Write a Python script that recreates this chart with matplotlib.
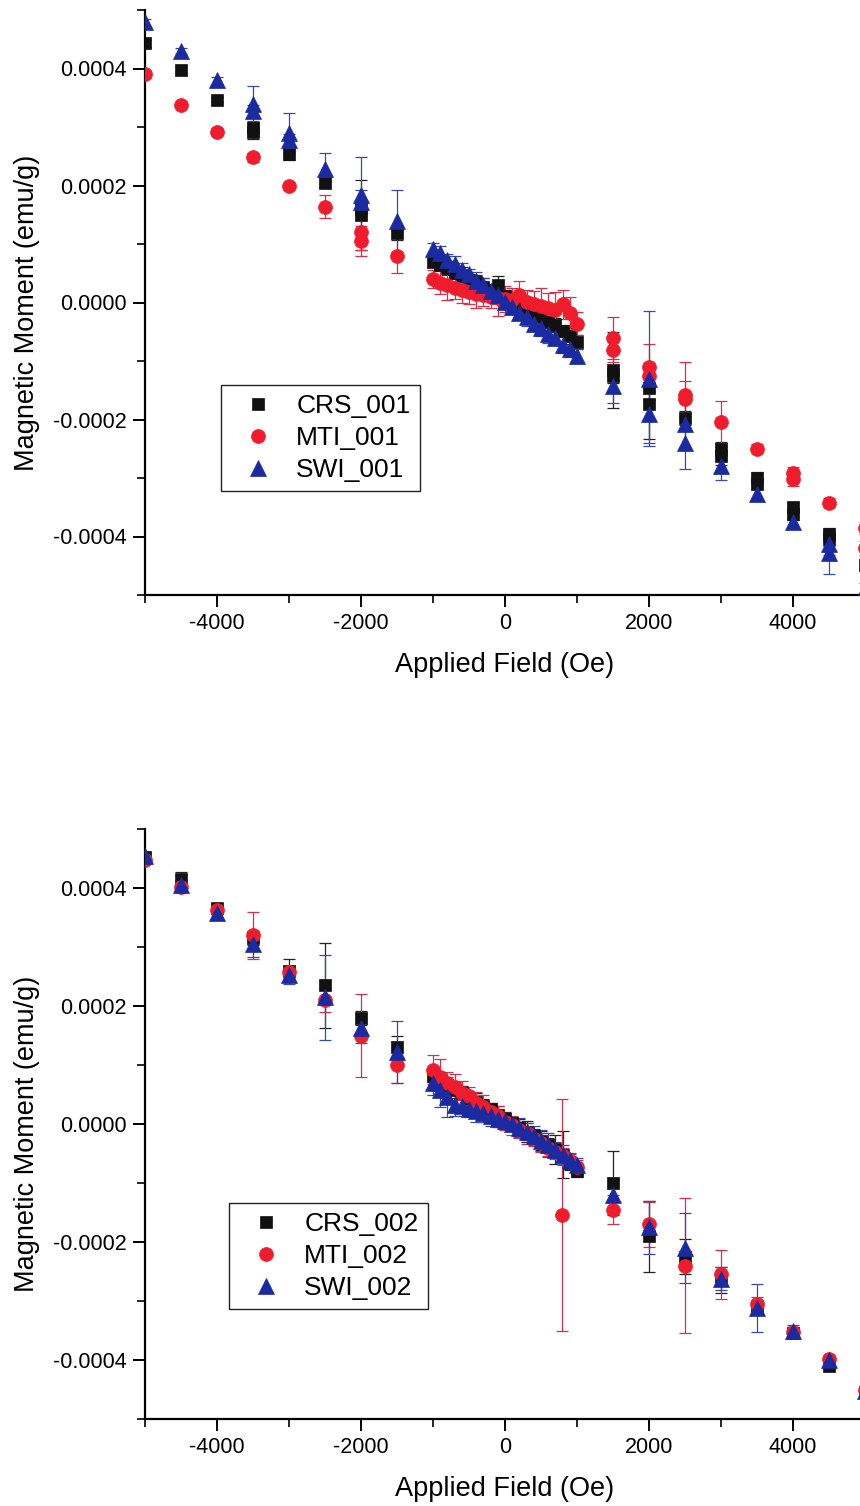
import matplotlib
matplotlib.use("Agg")
import matplotlib.pyplot as plt
from matplotlib.lines import Line2D
from matplotlib.ticker import MultipleLocator, FormatStrFormatter

plt.rcParams['font.family'] = ['Liberation Sans', 'DejaVu Sans']

# ---------------- data: panel 1 (sample 001) ----------------
crs1_x = [-5000, -4500, -4000, -3500, -3500, -3000, -2500, -2000, -2000, -1500,
          -1000, -900, -800, -700, -600, -500, -400, -300, -200, -100, 0,
          100, 200, 300, 400, 500, 600, 700, 800, 900, 1000,
          1500, 1500, 2000, 2000, 2500, 3000, 3000, 3500, 3500, 4000, 4000, 4500, 4500, 5000]
crs1_y = [0.000443, 0.000398, 0.000347, 0.000299, 0.000292, 0.000253, 0.000205, 0.000162, 0.000150, 0.000118,
          0.000070, 0.000064, 0.000059, 0.000051, 0.000046, 0.000039, 0.000035, 0.000026, 0.000022, 0.000030, 0.000011,
          0.000004, -0.000005, -0.000010, -0.000019, -0.000024, -0.000033, -0.000039, -0.000049, -0.000057, -0.000068,
          -0.000116, -0.000125, -0.000147, -0.000173, -0.000198, -0.000250, -0.000262, -0.000300, -0.000310, -0.000350, -0.000362, -0.000395, -0.000405, -0.000448]
crs1_e = [0.000006, 0.000006, 0.000005, 0.000010, 0.000012, 0.000010, 0.000008, 0.000012, 0.000060, 0.000012,
          0.000010, 0.000008, 0.000012, 0.000010, 0.000014, 0.000010, 0.000012, 0.000016, 0.000010, 0.000016, 0.000010,
          0.000012, 0.000010, 0.000014, 0.000012, 0.000010, 0.000030, 0.000012, 0.000010, 0.000014, 0.000012,
          0.000065, 0.000012, 0.000020, 0.000060, 0.000012, 0.000012, 0.000015, 0.000010, 0.000008, 0.000008, 0.000010, 0.000010, 0.000012, 0.000010]

mti1_x = [-5000, -4500, -4000, -3500, -3000, -2500, -2000, -2000, -1500,
          -1000, -900, -800, -700, -600, -500, -400, -300, -200, -100, 0,
          100, 200, 300, 400, 500, 600, 700, 800, 900, 1000,
          1500, 1500, 2000, 2000, 2500, 2500, 3000, 3500, 4000, 4000, 4500, 5000, 5000]
mti1_y = [0.000390, 0.000338, 0.000292, 0.000248, 0.000200, 0.000164, 0.000120, 0.000105, 0.000080,
          0.000040, 0.000034, 0.000030, 0.000024, 0.000021, 0.000018, 0.000015, 0.000012, 0.000010, 0.000007, 0.000006,
          0.000004, 0.000012, 0.000001, -0.000002, -0.000006, -0.000009, -0.000012, -0.000003, -0.000018, -0.000036,
          -0.000060, -0.000082, -0.000111, -0.000125, -0.000158, -0.000165, -0.000205, -0.000250, -0.000292, -0.000302, -0.000342, -0.000386, -0.000420]
mti1_e = [0.000006, 0.000004, 0.000006, 0.000008, 0.000004, 0.000020, 0.000030, 0.000026, 0.000030,
          0.000015, 0.000020, 0.000025, 0.000018, 0.000022, 0.000020, 0.000025, 0.000018, 0.000020, 0.000030, 0.000022,
          0.000020, 0.000025, 0.000020, 0.000022, 0.000030, 0.000025, 0.000030, 0.000025, 0.000028, 0.000020,
          0.000036, 0.000020, 0.000040, 0.000022, 0.000056, 0.000030, 0.000036, 0.000008, 0.000010, 0.000012, 0.000008, 0.000010, 0.000012]

swi1_x = [-5000, -4500, -4000, -3500, -3500, -3000, -3000, -2500, -2000, -2000, -1500,
          -1000, -900, -800, -700, -600, -500, -400, -300, -200, -100, 0,
          100, 200, 300, 400, 500, 600, 700, 800, 900, 1000,
          1500, 2000, 2000, 2500, 2500, 3000, 3500, 4000, 4500, 4500, 5000]
swi1_y = [0.000479, 0.000430, 0.000380, 0.000340, 0.000328, 0.000290, 0.000278, 0.000229, 0.000183, 0.000172, 0.000140,
          0.000092, 0.000084, 0.000073, 0.000066, 0.000055, 0.000048, 0.000037, 0.000030, 0.000019, 0.000012, 0.000001,
          -0.000007, -0.000018, -0.000025, -0.000036, -0.000043, -0.000054, -0.000061, -0.000072, -0.000079, -0.000091,
          -0.000142, -0.000130, -0.000190, -0.000207, -0.000240, -0.000279, -0.000327, -0.000376, -0.000412, -0.000429, -0.000490]
swi1_e = [0.000006, 0.000005, 0.000006, 0.000030, 0.000010, 0.000034, 0.000010, 0.000027, 0.000065, 0.000020, 0.000053,
          0.000010, 0.000012, 0.000010, 0.000014, 0.000012, 0.000010, 0.000015, 0.000012, 0.000010, 0.000014, 0.000012,
          0.000012, 0.000010, 0.000015, 0.000012, 0.000014, 0.000016, 0.000012, 0.000015, 0.000014, 0.000012,
          0.000030, 0.000115, 0.000050, 0.000040, 0.000045, 0.000025, 0.000012, 0.000010, 0.000020, 0.000035, 0.000010]

# ---------------- data: panel 2 (sample 002) ----------------
crs2_x = [-5000, -4500, -4000, -3500, -3000, -2500, -2000, -1500,
          -1000, -900, -800, -700, -600, -500, -400, -300, -200, -100, 0,
          100, 200, 300, 400, 500, 600, 700, 800, 900, 1000,
          1500, 2000, 2500, 3000, 3500, 4000, 4500, 5000]
crs2_y = [0.000452, 0.000415, 0.000366, 0.000315, 0.000260, 0.000235, 0.000180, 0.000130,
          0.000082, 0.000072, 0.000066, 0.000058, 0.000052, 0.000044, 0.000038, 0.000031, 0.000025, 0.000016, 0.000008,
          0.000002, -0.000006, -0.000013, -0.000021, -0.000028, -0.000036, -0.000043, -0.000052, -0.000066, -0.000080,
          -0.000100, -0.000190, -0.000225, -0.000265, -0.000310, -0.000355, -0.000410, -0.000455]
crs2_e = [0.000006, 0.000012, 0.000006, 0.000012, 0.000020, 0.000072, 0.000012, 0.000020,
          0.000010, 0.000012, 0.000010, 0.000014, 0.000012, 0.000010, 0.000014, 0.000012, 0.000010, 0.000014, 0.000012,
          0.000010, 0.000014, 0.000018, 0.000012, 0.000016, 0.000012, 0.000025, 0.000040, 0.000012, 0.000010,
          0.000055, 0.000060, 0.000030, 0.000022, 0.000012, 0.000008, 0.000006, 0.000006]

mti2_x = [-5000, -4500, -4000, -3500, -3000, -2500, -2000, -1500,
          -1000, -900, -800, -700, -600, -500, -400, -300, -200, -100, 0,
          100, 200, 300, 400, 500, 600, 700, 790, 800, 900, 1000,
          1500, 2000, 2500, 3000, 3500, 4000, 4500, 5000]
mti2_y = [0.000448, 0.000402, 0.000362, 0.000320, 0.000258, 0.000210, 0.000150, 0.000100,
          0.000092, 0.000080, 0.000070, 0.000062, 0.000053, 0.000047, 0.000036, 0.000029, 0.000020, 0.000013, 0.000004,
          -0.000002, -0.000010, -0.000016, -0.000025, -0.000032, -0.000040, -0.000048, -0.000154, -0.000055, -0.000063, -0.000073,
          -0.000145, -0.000170, -0.000240, -0.000255, -0.000305, -0.000352, -0.000398, -0.000450]
mti2_e = [0.000006, 0.000005, 0.000006, 0.000040, 0.000010, 0.000020, 0.000070, 0.000030,
          0.000025, 0.000030, 0.000018, 0.000022, 0.000020, 0.000016, 0.000018, 0.000020, 0.000016, 0.000018, 0.000014,
          0.000016, 0.000014, 0.000018, 0.000012, 0.000016, 0.000014, 0.000012, 0.000196, 0.000014, 0.000012, 0.000012,
          0.000025, 0.000038, 0.000115, 0.000042, 0.000012, 0.000008, 0.000006, 0.000006]

swi2_x = [-5000, -4500, -4000, -3500, -3000, -2500, -2000, -1500,
          -1000, -900, -800, -700, -600, -500, -400, -300, -200, -100, 0,
          100, 200, 300, 400, 500, 600, 700, 800, 900, 1000,
          1500, 2000, 2500, 3000, 3500, 4000, 4500, 5000]
swi2_y = [0.000455, 0.000405, 0.000357, 0.000305, 0.000252, 0.000215, 0.000162, 0.000122,
          0.000070, 0.000058, 0.000046, 0.000033, 0.000030, 0.000026, 0.000022, 0.000018, 0.000013, 0.000009, 0.000005,
          0.000000, -0.000006, -0.000013, -0.000020, -0.000028, -0.000036, -0.000044, -0.000052, -0.000061, -0.000070,
          -0.000120, -0.000175, -0.000210, -0.000262, -0.000312, -0.000350, -0.000400, -0.000452]
swi2_e = [0.000006, 0.000008, 0.000008, 0.000022, 0.000015, 0.000072, 0.000025, 0.000052,
          0.000020, 0.000030, 0.000034, 0.000020, 0.000016, 0.000014, 0.000018, 0.000014, 0.000016, 0.000014, 0.000014,
          0.000012, 0.000016, 0.000014, 0.000016, 0.000018, 0.000020, 0.000014, 0.000016, 0.000012, 0.000012,
          0.000025, 0.000045, 0.000060, 0.000020, 0.000040, 0.000010, 0.000006, 0.000006]

labels1 = ["CRS_001", "MTI_001", "SWI_001"]
labels2 = ["CRS_002", "MTI_002", "SWI_002"]
x_label = "Applied Field (Oe)"
y_label = "Magnetic Moment (emu/g)"

# ---------------- styling ----------------
C_BLACK = "#111111"
C_RED = "#f01c2c"
C_BLUE = "#1a2aa0"
E_BLACK = "#222222"
E_RED = "#d8304c"
E_BLUE = "#3a4aa8"

W, H = 860, 1506
fig = plt.figure(figsize=(W / 100, H / 100), dpi=100)

ax_w = (865 - 145) / W
ax1 = fig.add_axes([145 / W, 1 - 595 / H, ax_w, 585 / H])
ax2 = fig.add_axes([145 / W, 1 - 1419 / H, ax_w, 590 / H])

STYLES = [("s", C_BLACK, E_BLACK, 9.0), ("o", C_RED, E_RED, 10.0), ("^", C_BLUE, E_BLUE, 11.0)]


def draw(ax, data, labels, leg_anchor):
    handles = []
    for (x, y, e), (m, c, ec, ms), lab in zip(data, STYLES, labels):
        ax.errorbar(x, y, yerr=e, fmt="none", ecolor=ec, elinewidth=0.9,
                    capsize=4.5, capthick=0.9, zorder=2)
        ax.plot(x, y, linestyle="none", marker=m, color=c, mec=c, mfc=c,
                ms=ms, mew=0.5, zorder=3)
        handles.append(Line2D([], [], linestyle="none", marker=m, color=c,
                              mec=c, mfc=c, ms=ms, mew=0.5, label=lab))
    ax.set_xlim(-5000, 5000)
    ax.set_ylim(-0.0005, 0.0005)
    ax.xaxis.set_major_locator(MultipleLocator(2000))
    ax.xaxis.set_minor_locator(MultipleLocator(1000))
    ax.yaxis.set_major_locator(MultipleLocator(0.0002))
    ax.yaxis.set_minor_locator(MultipleLocator(0.0001))
    ax.yaxis.set_major_formatter(FormatStrFormatter("%.4f"))
    ax.xaxis.set_major_formatter(FormatStrFormatter("%d"))
    for s in ("top", "right"):
        ax.spines[s].set_visible(False)
    for s in ("left", "bottom"):
        ax.spines[s].set_linewidth(1.6)
    ax.tick_params(which="major", direction="out", length=8.5, width=1.4,
                   labelsize=15.5, pad=4.5)
    ax.tick_params(which="minor", direction="out", length=5.5, width=1.2)
    ax.set_xlabel(x_label, fontsize=19.5, labelpad=13)
    ax.set_ylabel(y_label, fontsize=19.5)
    ax.yaxis.set_label_coords(-0.146, 0.483)
    leg = ax.legend(handles=handles, loc="lower left", bbox_to_anchor=leg_anchor,
                    borderaxespad=0, fontsize=19, frameon=True, fancybox=False,
                    framealpha=1, edgecolor="#222222", numpoints=1,
                    handlelength=2.1, handletextpad=0.4, labelspacing=0.3,
                    borderpad=0.35)
    leg.get_frame().set_linewidth(1.0)
    return leg


draw(ax1, [(crs1_x, crs1_y, crs1_e), (mti1_x, mti1_y, mti1_e), (swi1_x, swi1_y, swi1_e)],
     labels1, (0.1056, 0.1778))
draw(ax2, [(crs2_x, crs2_y, crs2_e), (mti2_x, mti2_y, mti2_e), (swi2_x, swi2_y, swi2_e)],
     labels2, (0.1167, 0.1864))

fig.savefig("out.png", dpi=100)
